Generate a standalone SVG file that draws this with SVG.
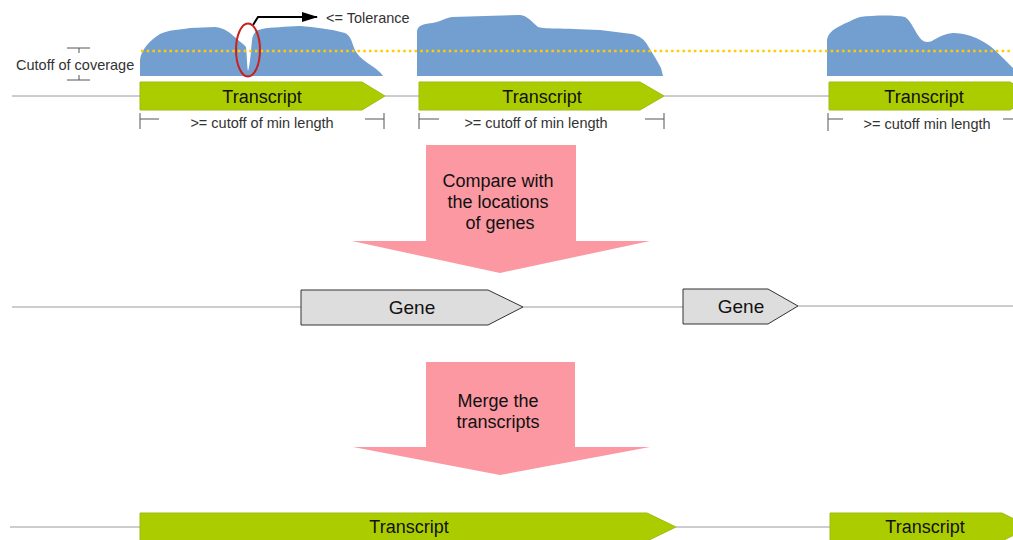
<svg xmlns="http://www.w3.org/2000/svg" width="1013" height="540" viewBox="0 0 1013 540">
<style>
.track{stroke:#9a9a9a;stroke-width:1;fill:none}
.tr{fill:#abcd00;stroke:#9cbc10;stroke-width:1}
.gene{fill:#dddddd;stroke:#333333;stroke-width:1}
.cov{fill:#729fcf}
.big{fill:#fb98a2}
.br{stroke:#555555;stroke-width:1;fill:none}
.lbl{font-family:"Liberation Sans",Arial,sans-serif;font-size:18px;fill:#111111;text-anchor:middle}
.sm{font-family:"Liberation Sans",Arial,sans-serif;font-size:14.5px;fill:#333333}
.mid{text-anchor:middle}
</style>
<defs>
<marker id="ah" markerWidth="16" markerHeight="10" refX="15" refY="5" orient="auto" markerUnits="userSpaceOnUse">
<path d="M0,0 L16,5 L0,10 Z" fill="#000"/>
</marker>
</defs>
<rect width="1013" height="540" fill="#ffffff"/>

<g id="connectors">
<line class="track" x1="12" y1="96" x2="140" y2="96"/>
<line class="track" x1="385" y1="96" x2="419" y2="96"/>
<line class="track" x1="664" y1="96" x2="829" y2="96"/>
<line class="track" x1="12" y1="307" x2="301" y2="307"/>
<line class="track" x1="523" y1="307" x2="683" y2="307"/>
<line class="track" x1="798" y1="306" x2="1013" y2="306"/>
<line class="track" x1="10" y1="527" x2="140" y2="527"/>
<line class="track" x1="676" y1="527" x2="830" y2="527"/>
<path d="M253,25 L258,17 L317,17" fill="none" stroke="#000" stroke-width="2" marker-end="url(#ah)"/>
</g>

<g id="coverage">
<path class="cov" d="M140,76 L140,60 C141,50 150,40 160,34 C168,30 178,30 190,28 L215,27 C225,28 230,33 236,38 C240,42 244,44 246,47 C247,56 247,66 248,71 C250,66 251,50 252,40 C253,33 256,30 262,29 C272,27 285,27 300,26 C315,27 330,29 345,33 C352,36 352,45 356,52 C360,58 366,62 372,66 C378,70 381,73 383,76 Z"/>
<path class="cov" d="M417,76 L417,32 C417,26 422,24 432,23 C440,22 445,18 452,17 L520,15 C528,16 532,22 538,27 C542,29 560,28 600,30 L632,34 C640,36 645,40 648,46 C653,54 658,62 661,68 L663,76 Z"/>
<path class="cov" d="M827,76 L827,40 C828,34 832,30 840,26 C848,22 852,20 860,17 C875,15 895,15 905,17 C912,22 915,32 920,38 C923,42 927,43 932,41 C937,38 943,34 953,33 C965,33 975,37 982,41 C990,45 997,52 1003,58 C1008,63 1011,66 1013,68 L1013,76 Z"/>
<line x1="141" y1="51" x2="1013" y2="51" stroke="#ffcc00" stroke-width="2.5" stroke-dasharray="2.5 3.2"/>
<ellipse cx="248" cy="50" rx="12" ry="26.5" fill="none" stroke="#c9211e" stroke-width="2"/>
<text class="sm" x="326" y="23">&lt;= Tolerance</text>
</g>

<g id="cutoff-coverage">
<path class="br" d="M67,48 H90 M79,48 V53 M79,75 V80 M67,80 H90"/>
<text class="sm" x="16" y="70">Cutoff of coverage</text>
</g>

<g id="transcript-1">
<path class="tr" d="M140,82 L362,82 L385,96 L362,110 L140,110 Z"/>
<text class="lbl" x="262" y="102.5">Transcript</text>
<path class="br" d="M140,113 V129 M140,119 H159 M365,119 H384 M384,113 V129"/>
<text class="sm mid" x="262" y="128">&gt;= cutoff of min length</text>
</g>

<g id="transcript-2">
<path class="tr" d="M419,82 L640,82 L664,96 L640,110 L419,110 Z"/>
<text class="lbl" x="542" y="102.5">Transcript</text>
<path class="br" d="M419,113 V129 M419,119 H439 M645,119 H664 M664,113 V129"/>
<text class="sm mid" x="536" y="128">&gt;= cutoff of min length</text>
</g>

<g id="transcript-3">
<path class="tr" d="M829,82 L1010,82 L1034,96 L1010,110 L829,110 Z"/>
<text class="lbl" x="924" y="102.5">Transcript</text>
<path class="br" d="M828,113 V131 M828,119 H843 M1003,119 H1013"/>
<text class="sm mid" x="927" y="129">&gt;= cutoff min length</text>
</g>

<g id="step-compare">
<path class="big" d="M426,145 L576,145 L576,241 L650,241 L500,273 L352,241 L426,241 Z"/>
<text class="lbl" x="498" y="187">Compare with</text>
<text class="lbl" x="498" y="208">the locations</text>
<text class="lbl" x="500" y="229">of genes</text>
</g>

<g id="gene-1">
<path class="gene" d="M301,290 L488,290 L523,307 L488,325 L301,325 Z"/>
<text class="lbl" x="412" y="314" style="font-size:19px">Gene</text>
</g>

<g id="gene-2">
<path class="gene" d="M683,289 L768,289 L798,306 L768,324 L683,324 Z"/>
<text class="lbl" x="741" y="313" style="font-size:19px">Gene</text>
</g>

<g id="step-merge">
<path class="big" d="M426,362 L575,362 L575,447 L650,447 L500,475 L353,447 L426,447 Z"/>
<text class="lbl" x="498" y="407">Merge the</text>
<text class="lbl" x="498" y="428">transcripts</text>
</g>

<g id="merged-transcript-1">
<path class="tr" d="M140,513 L647,513 L676,527 L647,541 L140,541 Z"/>
<text class="lbl" x="409" y="533">Transcript</text>
</g>

<g id="merged-transcript-2">
<path class="tr" d="M830,513 L1002,513 L1030,527 L1002,541 L830,541 Z"/>
<text class="lbl" x="925" y="533">Transcript</text>
</g>
</svg>
